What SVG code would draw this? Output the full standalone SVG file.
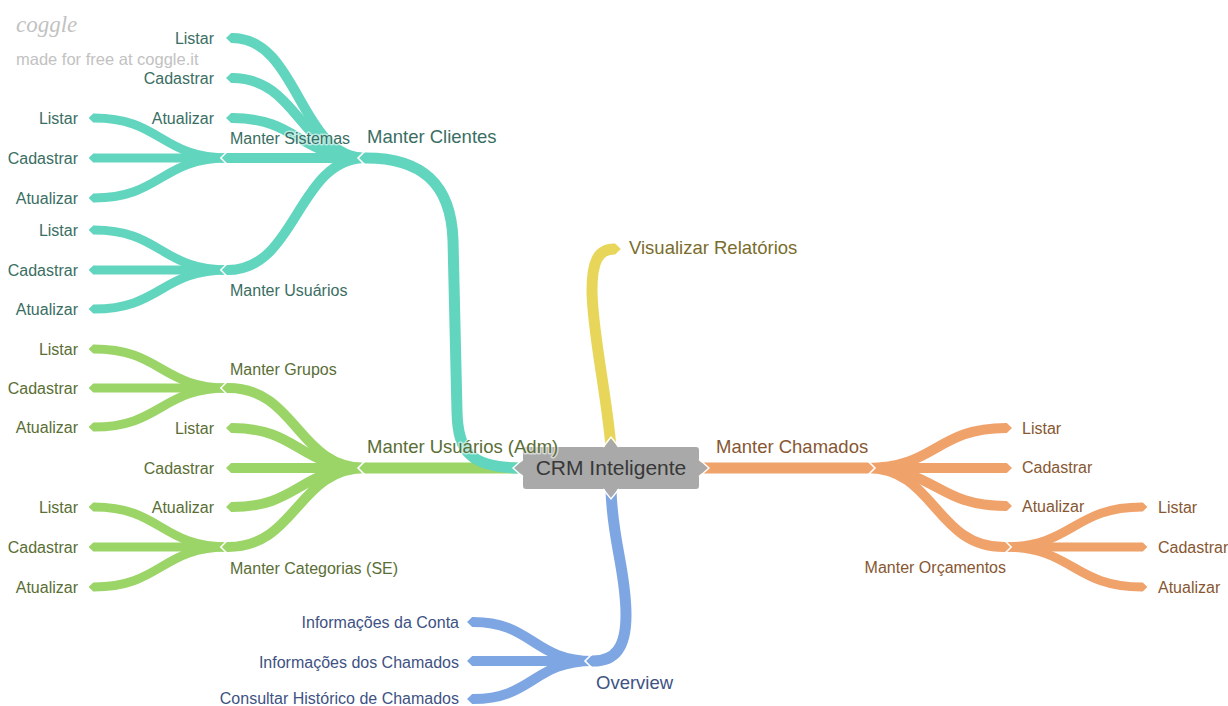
<svg xmlns="http://www.w3.org/2000/svg" width="1228" height="706" viewBox="0 0 1228 706">
  <style>
    .br { fill: none; stroke-linecap: butt; stroke-linejoin: round; }
    .l1 { stroke-width: 11; }
    .l2 { stroke-width: 10; }
    .l3 { stroke-width: 9; }
    .teal { stroke: #62d5bf; marker-end: url(#tip-teal); }
    .green { stroke: #9bd568; marker-end: url(#tip-green); }
    .orange { stroke: #f0a26b; marker-end: url(#tip-orange); }
    .yellow { stroke: #e8d65a; marker-end: url(#tip-yellow); }
    .blue { stroke: #7ea6e3; marker-end: url(#tip-blue); }
    text { font-family: "Liberation Sans", Arial, sans-serif; font-size: 16px;
           paint-order: stroke; stroke: #ffffff; stroke-width: 3px; stroke-opacity: 0.55; stroke-linejoin: round; }
    .big { font-size: 18.5px; }
    .end { text-anchor: end; }
    .t-teal { fill: #3a6e63; }
    .t-green { fill: #5a6e35; }
    .t-orange { fill: #875732; }
    .t-yellow { fill: #7a6c2c; }
    .t-blue { fill: #3e5283; }
    .root-text { font-size: 21px; fill: #383838; text-anchor: middle; stroke: none; }
    .mark { fill: #c2c2c2; stroke: none; }
  </style>
  <defs>
    <!-- pointed branch tip with a thin white edge that cuts the notch where children start -->
    <marker id="tip-teal" viewBox="-1 -1 2 2" markerWidth="2" markerHeight="2" refX="0" refY="0" orient="auto" markerUnits="strokeWidth" overflow="visible">
      <path d="M-0.02,-0.5 L0.1,-0.5 L0.62,0 L0.1,0.5 L-0.02,0.5Z" fill="#62d5bf"/>
      <path d="M0.04,-0.68 L0.72,0 L0.04,0.68" fill="none" stroke="#fff" stroke-width="0.15"/>
    </marker>
    <marker id="tip-green" viewBox="-1 -1 2 2" markerWidth="2" markerHeight="2" refX="0" refY="0" orient="auto" markerUnits="strokeWidth" overflow="visible">
      <path d="M-0.02,-0.5 L0.1,-0.5 L0.62,0 L0.1,0.5 L-0.02,0.5Z" fill="#9bd568"/>
      <path d="M0.04,-0.68 L0.72,0 L0.04,0.68" fill="none" stroke="#fff" stroke-width="0.15"/>
    </marker>
    <marker id="tip-orange" viewBox="-1 -1 2 2" markerWidth="2" markerHeight="2" refX="0" refY="0" orient="auto" markerUnits="strokeWidth" overflow="visible">
      <path d="M-0.02,-0.5 L0.1,-0.5 L0.62,0 L0.1,0.5 L-0.02,0.5Z" fill="#f0a26b"/>
      <path d="M0.04,-0.68 L0.72,0 L0.04,0.68" fill="none" stroke="#fff" stroke-width="0.15"/>
    </marker>
    <marker id="tip-yellow" viewBox="-1 -1 2 2" markerWidth="2" markerHeight="2" refX="0" refY="0" orient="auto" markerUnits="strokeWidth" overflow="visible">
      <path d="M-0.02,-0.5 L0.1,-0.5 L0.62,0 L0.1,0.5 L-0.02,0.5Z" fill="#e8d65a"/>
    </marker>
    <marker id="tip-blue" viewBox="-1 -1 2 2" markerWidth="2" markerHeight="2" refX="0" refY="0" orient="auto" markerUnits="strokeWidth" overflow="visible">
      <path d="M-0.02,-0.5 L0.1,-0.5 L0.62,0 L0.1,0.5 L-0.02,0.5Z" fill="#7ea6e3"/>
      <path d="M0.04,-0.68 L0.72,0 L0.04,0.68" fill="none" stroke="#fff" stroke-width="0.15"/>
    </marker>
  </defs>

  <rect width="1228" height="706" fill="#ffffff"/>

  <!-- watermark -->
  <g id="watermark">
    <text class="mark" x="16" y="32" style="font-family:'Liberation Serif',serif;font-style:italic;font-size:23px">coggle</text>
    <text class="mark" x="16" y="65" style="font-size:16.5px">made for free at coggle.it</text>
  </g>

  <g id="connectors">
    <!-- level 3 -->
    <path class="br l3 teal" d="M228,158 C161,158 161,118 94,118"/>
    <path class="br l3 teal" d="M228,158 L94,158"/>
    <path class="br l3 teal" d="M228,158 C161,158 161,198 94,198"/>
    <path class="br l3 teal" d="M228,270 C161,270 161,230 94,230"/>
    <path class="br l3 teal" d="M228,270 L94,270"/>
    <path class="br l3 teal" d="M228,270 C161,270 161,309 94,309"/>

    <path class="br l3 green" d="M228,388 C161,388 161,349 94,349"/>
    <path class="br l3 green" d="M228,388 L94,388"/>
    <path class="br l3 green" d="M228,388 C161,388 161,427 94,427"/>
    <path class="br l3 green" d="M228,547 C161,547 161,507 94,507"/>
    <path class="br l3 green" d="M228,547 L94,547"/>
    <path class="br l3 green" d="M228,547 C161,547 161,587 94,587"/>

    <path class="br l3 orange" d="M1004,547 C1073,547 1073,507 1142,507"/>
    <path class="br l3 orange" d="M1004,547 L1142,547"/>
    <path class="br l3 orange" d="M1004,547 C1073,547 1073,587 1142,587"/>

    <!-- level 2 -->
    <path class="br l2 teal" d="M366,158 C299,158 299,38 232,38"/>
    <path class="br l2 teal" d="M366,158 C299,158 299,78 232,78"/>
    <path class="br l2 teal" d="M366,158 C299,158 299,118 232,118"/>
    <path class="br l2 teal" d="M366,158 L228,158"/>
    <path class="br l2 teal" d="M366,158 C297,158 297,270 228,270"/>

    <path class="br l2 green" d="M366,468 C297,468 297,388 228,388"/>
    <path class="br l2 green" d="M366,468 C299,468 299,428 232,428"/>
    <path class="br l2 green" d="M366,468 L232,468"/>
    <path class="br l2 green" d="M366,468 C299,468 299,507 232,507"/>
    <path class="br l2 green" d="M366,468 C297,468 297,547 228,547"/>

    <path class="br l2 orange" d="M867,468 C936,468 936,428 1006,428"/>
    <path class="br l2 orange" d="M867,468 L1006,468"/>
    <path class="br l2 orange" d="M867,468 C936,468 936,506 1006,506"/>
    <path class="br l2 orange" d="M867,468 C935,468 935,547 1004,547"/>

    <path class="br l2 blue" d="M593,661 C533,661 533,622 473,622"/>
    <path class="br l2 blue" d="M593,661 L473,661"/>
    <path class="br l2 blue" d="M593,661 C533,661 533,699 473,699"/>

    <!-- level 1 -->
    <path class="br l1 green" d="M523,468 L366,468"/>
    <path class="br l1 teal" d="M523,468 C470,468 458,452 457,412 L453,240 C451,182 420,158 366,158"/>
    <path class="br l1 orange" d="M699,468 L867,468"/>
    <path class="br l1 yellow" d="M611,447 C606,390 592,330 592,290 C592,262 598,249 614,249"/>
    <path class="br l1 blue" d="M611,489 C612,540 626,570 626,615 C626,648 615,661 593,661"/>
  </g>

  <!-- root -->
  <g id="crm-inteligente">
    <rect x="523" y="447" width="176" height="42" rx="3" fill="#a9a9a9"/>
    <polygon points="604,447.5 611,438 618,447.5" fill="#a9a9a9"/>
    <polygon points="604,488.5 611,498 618,488.5" fill="#a9a9a9"/>
    <polygon points="523.5,460 514,468 523.5,476" fill="#a9a9a9"/>
    <polygon points="698.5,460 708,468 698.5,476" fill="#a9a9a9"/>
    <g fill="none" stroke="#ffffff" stroke-width="1.4">
      <polyline points="603,447 611,437 619,447"/>
      <polyline points="603,489 611,499 619,489"/>
      <polyline points="523,459 513,468 523,477"/>
      <polyline points="699,459 709,468 699,477"/>
    </g>
    <text class="root-text" x="611" y="475.3">CRM Inteligente</text>
  </g>

  <!-- Manter Clientes -->
  <g id="manter-clientes"><text class="big t-teal" x="367" y="143.4">Manter Clientes</text></g>
  <g id="clientes-listar"><text class="t-teal end" x="214" y="43.5">Listar</text></g>
  <g id="clientes-cadastrar"><text class="t-teal end" x="214" y="83.5">Cadastrar</text></g>
  <g id="clientes-atualizar"><text class="t-teal end" x="214" y="123.5">Atualizar</text></g>
  <g id="manter-sistemas"><text class="t-teal" x="230" y="143.5">Manter Sistemas</text></g>
  <g id="sistemas-listar"><text class="t-teal end" x="78" y="123.5">Listar</text></g>
  <g id="sistemas-cadastrar"><text class="t-teal end" x="78" y="163.5">Cadastrar</text></g>
  <g id="sistemas-atualizar"><text class="t-teal end" x="78" y="203.5">Atualizar</text></g>
  <g id="manter-usuarios"><text class="t-teal" x="230" y="295.5">Manter Usuários</text></g>
  <g id="usuarios-listar"><text class="t-teal end" x="78" y="235.5">Listar</text></g>
  <g id="usuarios-cadastrar"><text class="t-teal end" x="78" y="275.5">Cadastrar</text></g>
  <g id="usuarios-atualizar"><text class="t-teal end" x="78" y="314.5">Atualizar</text></g>

  <!-- Manter Usuários (Adm) -->
  <g id="manter-usuarios-adm"><text class="big t-green" x="367" y="453.4">Manter Usuários (Adm)</text></g>
  <g id="manter-grupos"><text class="t-green" x="230" y="374.5">Manter Grupos</text></g>
  <g id="grupos-listar"><text class="t-green end" x="78" y="354.5">Listar</text></g>
  <g id="grupos-cadastrar"><text class="t-green end" x="78" y="393.5">Cadastrar</text></g>
  <g id="grupos-atualizar"><text class="t-green end" x="78" y="432.5">Atualizar</text></g>
  <g id="adm-listar"><text class="t-green end" x="214" y="433.5">Listar</text></g>
  <g id="adm-cadastrar"><text class="t-green end" x="214" y="473.5">Cadastrar</text></g>
  <g id="adm-atualizar"><text class="t-green end" x="214" y="512.5">Atualizar</text></g>
  <g id="manter-categorias"><text class="t-green" x="230" y="573.5">Manter Categorias (SE)</text></g>
  <g id="categorias-listar"><text class="t-green end" x="78" y="512.5">Listar</text></g>
  <g id="categorias-cadastrar"><text class="t-green end" x="78" y="552.5">Cadastrar</text></g>
  <g id="categorias-atualizar"><text class="t-green end" x="78" y="592.5">Atualizar</text></g>

  <!-- Visualizar Relatórios -->
  <g id="visualizar-relatorios"><text class="big t-yellow" x="629" y="254.4">Visualizar Relatórios</text></g>

  <!-- Manter Chamados -->
  <g id="manter-chamados"><text class="big t-orange" x="716" y="453.4">Manter Chamados</text></g>
  <g id="chamados-listar"><text class="t-orange" x="1022" y="433.5">Listar</text></g>
  <g id="chamados-cadastrar"><text class="t-orange" x="1022" y="472.5">Cadastrar</text></g>
  <g id="chamados-atualizar"><text class="t-orange" x="1022" y="511.5">Atualizar</text></g>
  <g id="manter-orcamentos"><text class="t-orange end" x="1006" y="572.5">Manter Orçamentos</text></g>
  <g id="orcamentos-listar"><text class="t-orange" x="1158" y="512.5">Listar</text></g>
  <g id="orcamentos-cadastrar"><text class="t-orange" x="1158" y="552.5">Cadastrar</text></g>
  <g id="orcamentos-atualizar"><text class="t-orange" x="1158" y="592.5">Atualizar</text></g>

  <!-- Overview -->
  <g id="overview"><text class="big t-blue" x="596" y="689.4">Overview</text></g>
  <g id="info-conta"><text class="t-blue end" x="459" y="627.5">Informações da Conta</text></g>
  <g id="info-chamados"><text class="t-blue end" x="459" y="667.5">Informações dos Chamados</text></g>
  <g id="historico-chamados"><text class="t-blue end" x="459" y="703.5">Consultar Histórico de Chamados</text></g>
</svg>
